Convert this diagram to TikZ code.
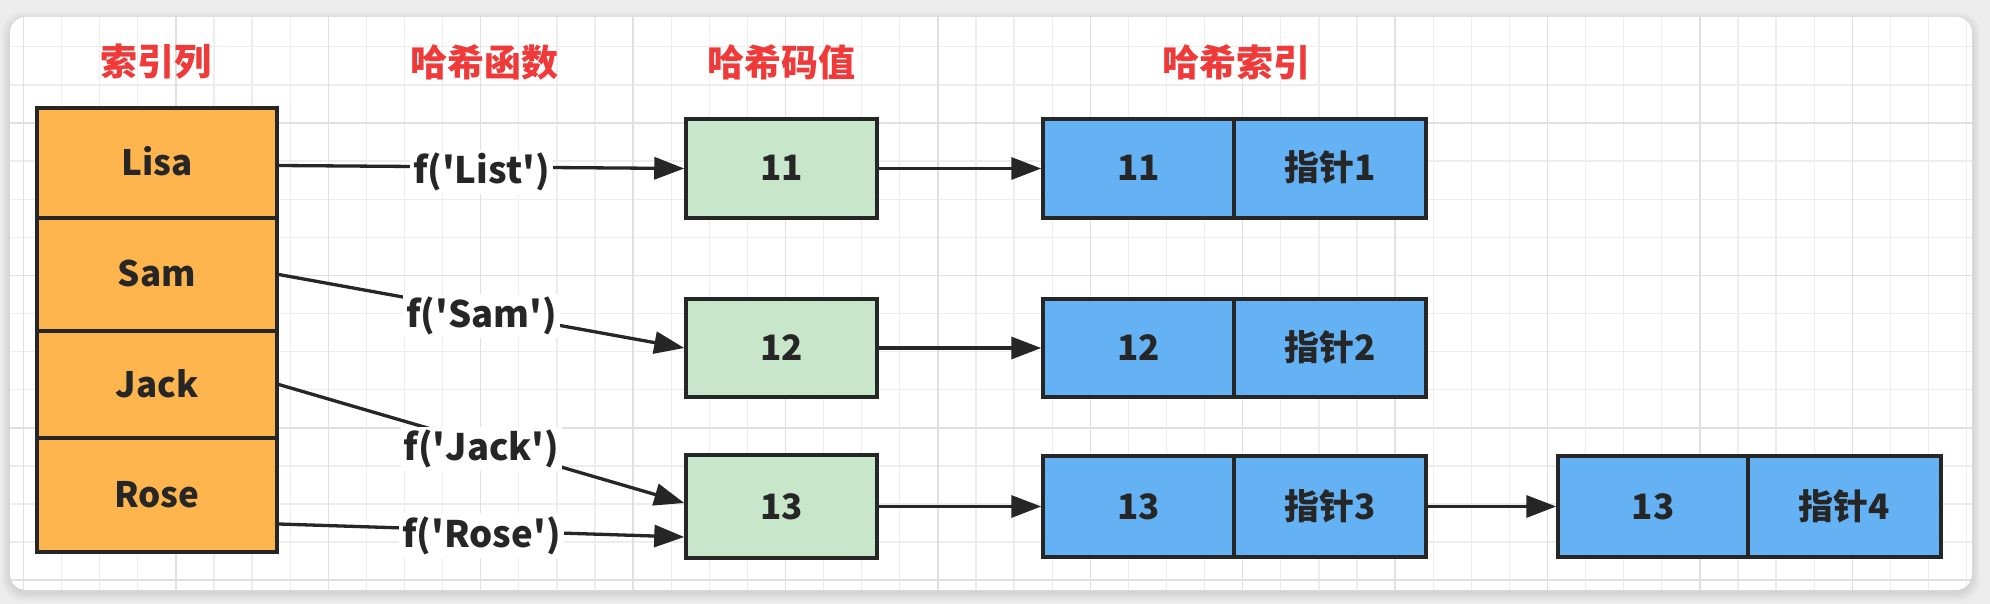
\documentclass[tikz,border=0pt]{standalone}
\usepackage{fontspec}
\setmainfont{Noto Sans CJK SC}
\usetikzlibrary{arrows.meta,calc}
\definecolor{orng}{HTML}{FFB54D}
\definecolor{grn}{HTML}{C8E6C9}
\definecolor{blu}{HTML}{64B2F4}
\definecolor{boxline}{HTML}{262626}
\definecolor{txt}{HTML}{262626}
\definecolor{hdr}{HTML}{F03A3A}
\definecolor{outerbg}{HTML}{ECECEC}
\definecolor{gridminor}{HTML}{EDEDED}
\definecolor{gridmajor}{HTML}{E0E0E0}
\newcommand{\q}{\textquotesingle}
\begin{document}
\begin{tikzpicture}[x=1pt,y=-1pt,
  cell/.style={draw=boxline, line width=3.5pt, inner sep=0pt, text=txt,
    font=\fontsize{35}{40}\selectfont\bfseries, text height=25pt, text depth=0pt},
  orcell/.style={cell, fill=orng, minimum width=240pt},
  grcell/.style={cell, fill=grn, minimum width=191pt},
  blcell/.style={cell, fill=blu, minimum width=192pt},
  hdrtxt/.style={text=hdr, font=\fontsize{37}{42}\selectfont\bfseries, inner sep=0pt},
  flabel/.style={fill=white, text=txt, inner sep=3pt, yshift=-5pt, font=\fontsize{36.5}{42}\selectfont\bfseries},
  conn/.style={draw=boxline, line width=3.3pt, -{Triangle[length=30pt,width=22pt]}}
]
\useasboundingbox (0,0) rectangle (1990,604);
\fill[outerbg] (0,0) rectangle (1990,604);
% soft shadow
\foreach \k in {1,...,8}{
  \fill[black,opacity=0.012,rounded corners=20pt] ({10-\k},{17-\k+3}) rectangle ({1972+\k},{590+\k+3});
}
\fill[white,rounded corners=16pt] (10,17) rectangle (1972,590);
% grid
\begin{scope}
  \clip[rounded corners=16pt] (10,17) rectangle (1972,590);
  \foreach \i in {0,...,52}{
    \draw[gridminor,line width=1.3pt] ({-14.6+38.1*\i},17) -- ({-14.6+38.1*\i},590);
  }
  \foreach \j in {0,...,15}{
    \draw[gridminor,line width=1.3pt] (10,{8.7+38.1*\j}) -- (1972,{8.7+38.1*\j});
  }
  \foreach \i in {0,...,12}{
    \draw[gridmajor,line width=1.5pt] ({23.5+152.4*\i},17) -- ({23.5+152.4*\i},590);
  }
  \foreach \j in {0,...,3}{
    \draw[gridmajor,line width=1.5pt] (10,{123+152.4*\j}) -- (1972,{123+152.4*\j});
  }
\end{scope}

% headers
\node[hdrtxt] (h1) at (156,62) {索引列};
\node[hdrtxt] (h2) at (484,62) {哈希函数};
\node[hdrtxt] (h3) at (781,62) {哈希码值};
\node[hdrtxt] (h4) at (1236,62) {哈希索引};

% index column
\node[orcell, minimum height=110pt] (lisa) at (157,163) {Lisa};
\node[orcell, minimum height=113pt] (sam) at (157,274.5) {Sam};
\node[orcell, minimum height=107pt] (jack) at (157,384.5) {Jack};
\node[orcell, minimum height=114pt] (rose) at (157,495) {Rose};

% hash codes
\node[grcell, minimum height=99pt] (g1) at (781.5,168.5) {11};
\node[grcell, minimum height=98pt] (g2) at (781.5,348) {12};
\node[grcell, minimum height=103pt] (g3) at (781.5,506.5) {13};

% hash index
\node[blcell, minimum width=191pt, minimum height=99pt] (k1) at (1138.5,168.5) {11};
\node[blcell, minimum height=99pt] (p1) at (1330,168.5) {指针1};
\node[blcell, minimum width=191pt, minimum height=98pt] (k2) at (1138.5,348) {12};
\node[blcell, minimum height=98pt] (p2) at (1330,348) {指针2};
\node[blcell, minimum width=191pt, minimum height=101pt] (k3) at (1138.5,506.5) {13};
\node[blcell, minimum height=101pt] (p3) at (1330,506.5) {指针3};
\node[blcell, minimum width=190pt, minimum height=101pt] (k4) at (1653,506.5) {13};
\node[blcell, minimum height=101pt, minimum width=193pt] (p4) at (1844.5,506.5) {指针4};

% connectors
\coordinate (lout) at ($(lisa.east)+(0,2.5)$);
\coordinate (jin) at ($(g3.west)+(0,-3.5)$);
\coordinate (rout) at ($(rose.east)+(0,29)$);
\coordinate (rin) at ($(g3.west)+(0,30.5)$);
\draw[conn] (lout) -- node[flabel] (fl) {f(\q List\q)} (g1.west);
\draw[conn] (sam.east) -- node[flabel] (fs) {f(\q Sam\q)} (g2.west);
\draw[conn] (jack.east) -- node[flabel] (fj) {f(\q Jack\q)} (jin);
\draw[conn] (rout) -- node[flabel] (fr) {f(\q Rose\q)} (rin);

\draw[conn] (g1.east) -- (k1.west);
\draw[conn] (g2.east) -- (k2.west);
\draw[conn] (g3.east) -- (k3.west);
\draw[conn] (p3.east) -- (k4.west);
\end{tikzpicture}
\end{document}
